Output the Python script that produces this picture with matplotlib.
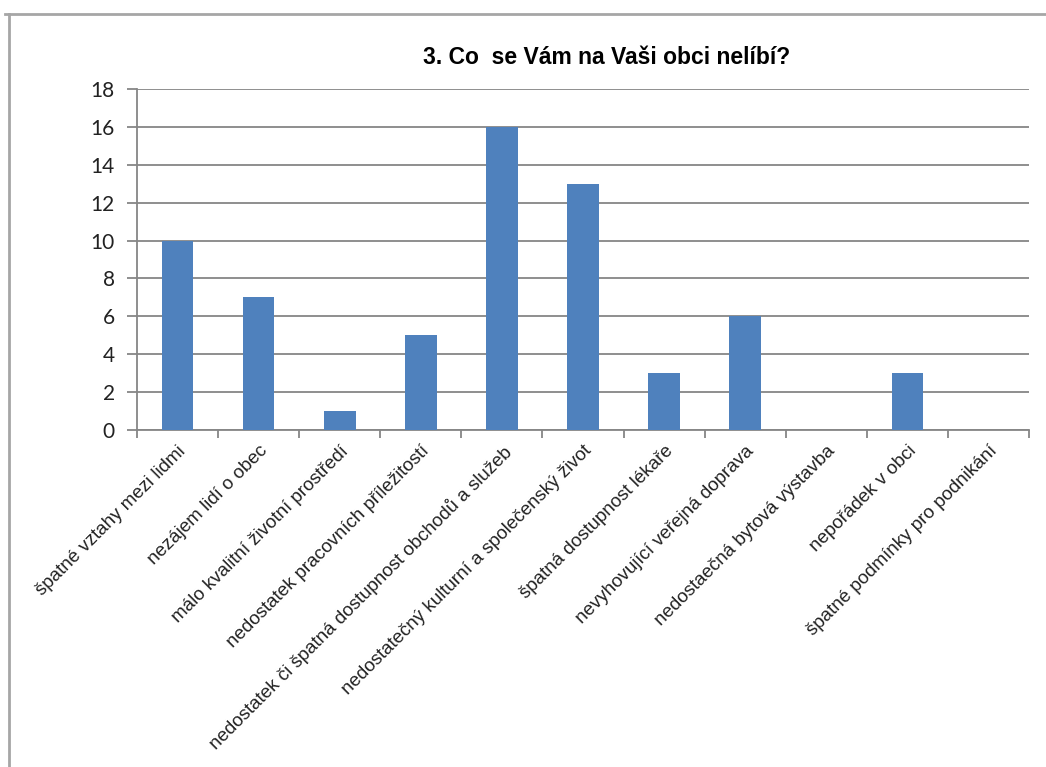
import matplotlib.pyplot as plt
from matplotlib.lines import Line2D

# Data
kategorie = [
    "špatné vztahy mezi lidmi",
    "nezájem lidí o obec",
    "málo kvalitní životní prostředí",
    "nedostatek pracovních příležitostí",
    "nedostatek či špatná dostupnost obchodů a služeb",
    "nedostatečný kulturní a společenský život",
    "špatná dostupnost lékaře",
    "nevyhovující veřejná doprava",
    "nedostaečná bytová výstavba",
    "nepořádek v obci",
    "špatné podmínky pro podnikání",
]
pocty = [10, 7, 1, 5, 16, 13, 3, 6, 0, 3, 0]
y_ticks = [0, 2, 4, 6, 8, 10, 12, 14, 16, 18]

titulek = "3. Co  se Vám na Vaši obci nelíbí?"

seda = "#868686"
modra = "#4F81BD"

W, H = 1046, 767
fig = plt.figure(figsize=(W / 100, H / 100), dpi=100)
ax = fig.add_axes([137 / W, 1 - 430 / H, (1029 - 137) / W, (430 - 89) / H])

x = list(range(len(kategorie)))
ax.bar(x, pocty, width=0.39, color=modra, zorder=3)

ax.set_xlim(-0.5, len(kategorie) - 0.5)
ax.set_ylim(0, 18)
ax.set_yticks(y_ticks)
ax.set_yticklabels([str(v) for v in y_ticks], fontsize=15, family=["Lato", "DejaVu Sans"],
                   color="#222222")
ax.grid(axis="y", color=seda, linewidth=1.3, zorder=0)

# popisky kategorií na středech, značky na hranicích
ax.set_xticks(x)
ax.set_xticklabels(kategorie, rotation=45, ha="right", rotation_mode="anchor",
                   fontsize=13.5, family=["Liberation Sans", "DejaVu Sans"], color="#222222")
ax.set_xticks([i - 0.5 for i in range(len(kategorie) + 1)], minor=True)
ax.tick_params(axis="x", which="major", length=0, pad=9)
ax.tick_params(axis="x", which="minor", length=6, color=seda, width=1.3)
ax.tick_params(axis="y", length=7, color=seda, width=1.3, pad=9)

for s in ["top", "right"]:
    ax.spines[s].set_visible(False)
for s in ["left", "bottom"]:
    ax.spines[s].set_color(seda)
    ax.spines[s].set_linewidth(1.3)

fig.text(607 / W, 1 - 58 / H, titulek, ha="center", va="center", fontsize=16.5,
         fontweight="bold", family=["Liberation Sans Narrow", "Liberation Sans", "DejaVu Sans"])

# rámeček grafu
fig.add_artist(Line2D([5 / W, 1], [1 - 14 / H, 1 - 14 / H], transform=fig.transFigure,
                      color="#a6a6a6", linewidth=2))
fig.add_artist(Line2D([9 / W, 9 / W], [0, 1 - 14 / H], transform=fig.transFigure,
                      color="#a6a6a6", linewidth=2))

fig.savefig("out.png", dpi=100)
